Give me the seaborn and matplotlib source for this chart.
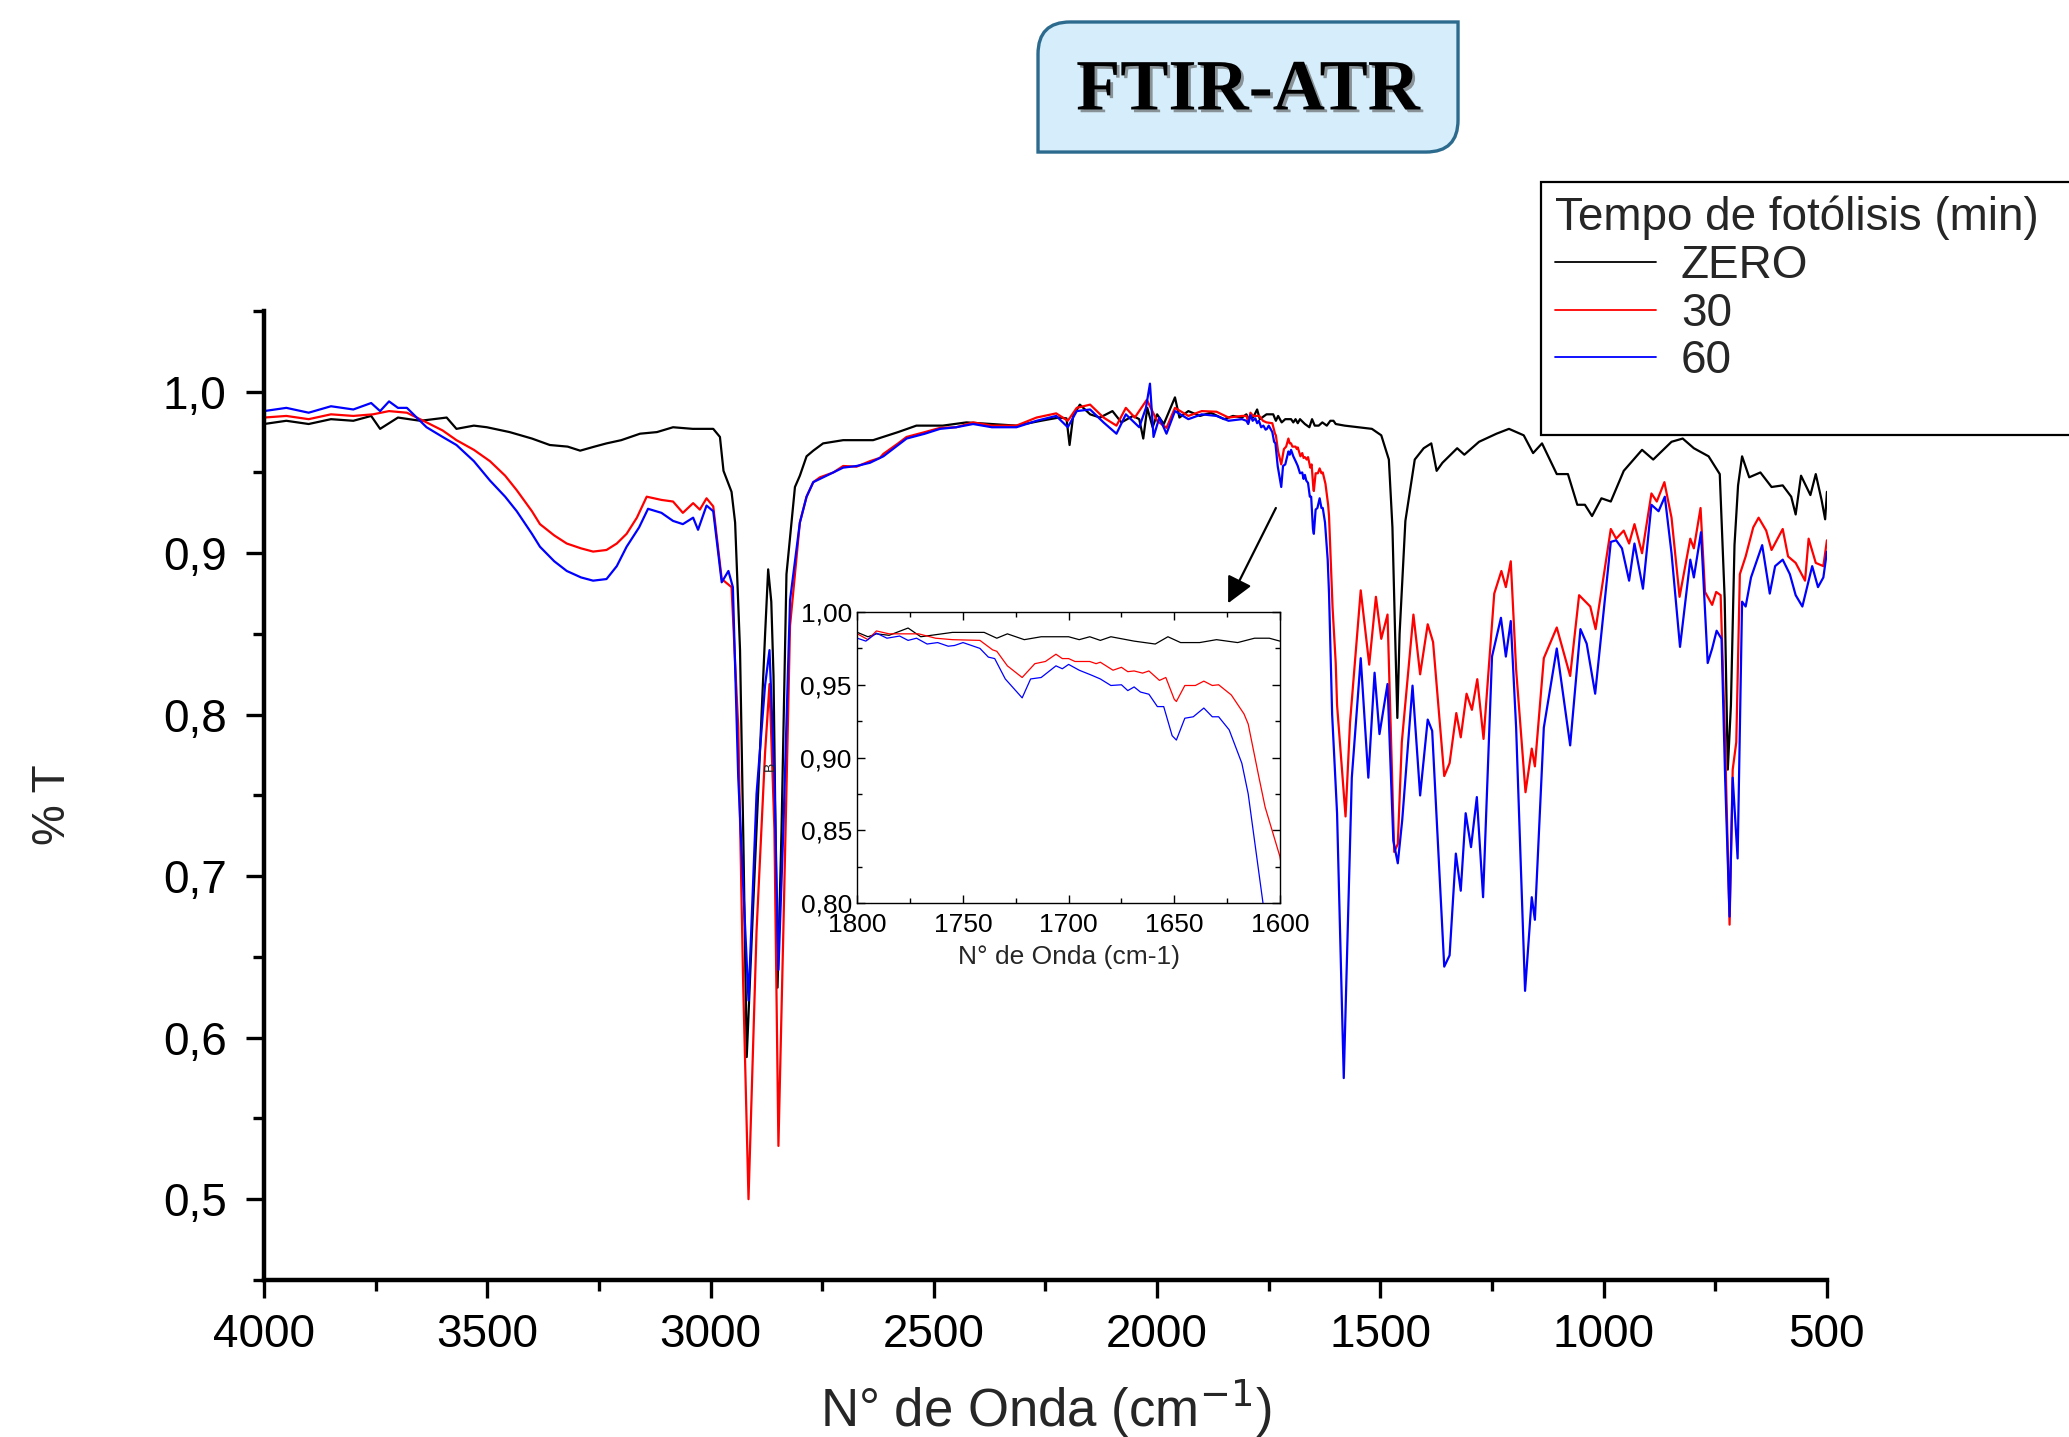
import pandas as pd
import seaborn as sns
import matplotlib.pyplot as plt
import matplotlib.patheffects as pe
from matplotlib.ticker import MultipleLocator, FuncFormatter
from matplotlib.lines import Line2D
from matplotlib.path import Path
from matplotlib.patches import PathPatch

# Espectro ZERO (sin fotólisis)
onda_zero = [4000, 3950, 3900, 3850, 3800, 3760, 3740, 3700, 3650, 3591,
             3569, 3530, 3501, 3450, 3400, 3360, 3320, 3292, 3260, 3233,
             3200, 3158, 3120, 3084, 3040, 2994, 2979, 2971, 2953, 2945,
             2934, 2926, 2919, 2908, 2897, 2878, 2871, 2864, 2859, 2850,
             2841, 2830, 2811, 2800, 2785, 2770, 2748, 2703, 2636, 2580,
             2539, 2480, 2427, 2370, 2315, 2260, 2220, 2203, 2196, 2188,
             2173, 2150, 2128, 2100, 2080, 2054, 2040, 2031, 2022, 2010,
             2000, 1985, 1970, 1960, 1950, 1930, 1904, 1880, 1850, 1830,
             1810, 1800, 1795, 1791, 1785, 1776, 1770, 1755, 1740, 1734,
             1729, 1721, 1713, 1700, 1695, 1690, 1685, 1680, 1669, 1659,
             1653, 1647, 1638, 1630, 1620, 1612, 1605, 1600, 1580, 1550,
             1519, 1498, 1481, 1473, 1467, 1462, 1457, 1444, 1423, 1403,
             1386, 1374, 1361, 1328, 1312, 1279, 1240, 1212, 1179, 1158,
             1138, 1105, 1080, 1059, 1042, 1026, 1005, 984, 955, 914,
             889, 848, 823, 798, 765, 740, 729, 722, 715, 707,
             699, 690, 674, 649, 624, 599, 580, 570, 558, 537,
             525, 512, 504, 500]
t_zero = [0.980, 0.982, 0.980, 0.983, 0.982, 0.985, 0.977, 0.984, 0.982, 0.984,
          0.977, 0.979, 0.978, 0.975, 0.971, 0.967, 0.966, 0.9635, 0.966, 0.968,
          0.970, 0.974, 0.975, 0.978, 0.977, 0.977, 0.972, 0.951, 0.938, 0.919,
          0.840, 0.713, 0.588, 0.660, 0.729, 0.849, 0.890, 0.870, 0.824, 0.631,
          0.729, 0.887, 0.941, 0.948, 0.960, 0.9635, 0.968, 0.970, 0.970, 0.975,
          0.979, 0.979, 0.981, 0.980, 0.979, 0.982, 0.984, 0.9835, 0.967, 0.985,
          0.992, 0.986, 0.984, 0.988, 0.981, 0.985, 0.983, 0.971, 0.990, 0.978,
          0.986, 0.980, 0.990, 0.9965, 0.984, 0.988, 0.985, 0.987, 0.983, 0.985,
          0.984, 0.986, 0.983, 0.985, 0.984, 0.989, 0.983, 0.986, 0.986, 0.982,
          0.985, 0.981, 0.983, 0.983, 0.981, 0.983, 0.9805, 0.983, 0.980, 0.978,
          0.983, 0.979, 0.979, 0.981, 0.979, 0.982, 0.982, 0.980, 0.979, 0.978,
          0.977, 0.973, 0.958, 0.916, 0.850, 0.798, 0.850, 0.920, 0.958, 0.965,
          0.968, 0.951, 0.956, 0.965, 0.961, 0.969, 0.974, 0.977, 0.973, 0.962,
          0.968, 0.949, 0.949, 0.930, 0.930, 0.923, 0.934, 0.932, 0.951, 0.964,
          0.958, 0.969, 0.971, 0.965, 0.960, 0.949, 0.872, 0.766, 0.806, 0.905,
          0.942, 0.960, 0.947, 0.950, 0.941, 0.942, 0.935, 0.924, 0.948, 0.936,
          0.949, 0.933, 0.921, 0.938]

# Espectro 30 min
onda_30 = [4000, 3950, 3900, 3850, 3800, 3756, 3720, 3680, 3636, 3600,
           3569, 3530, 3494, 3460, 3434, 3400, 3382, 3350, 3322, 3290,
           3263, 3233, 3210, 3188, 3165, 3143, 3110, 3084, 3062, 3039,
           3024, 3009, 2994, 2975, 2953, 2938, 2927, 2915, 2897, 2878,
           2868, 2857, 2848, 2837, 2822, 2800, 2785, 2770, 2755, 2725,
           2703, 2673, 2643, 2621, 2613, 2580, 2561, 2520, 2486, 2450,
           2412, 2370, 2315, 2270, 2226, 2200, 2180, 2150, 2120, 2091,
           2070, 2050, 2023, 2000, 1979, 1960, 1930, 1900, 1867, 1840,
           1810, 1800, 1795, 1791, 1785, 1771, 1763, 1755, 1742, 1736,
           1734, 1729, 1722, 1716, 1711, 1706, 1703, 1700, 1697, 1690,
           1687, 1685, 1679, 1675, 1672, 1669, 1665, 1662, 1657, 1654,
           1650, 1649, 1645, 1640, 1636, 1632, 1629, 1623, 1617, 1615,
           1610, 1607, 1600, 1597, 1578, 1568, 1544, 1525, 1510, 1498,
           1484, 1469, 1461, 1452, 1426, 1411, 1394, 1382, 1357, 1345,
           1330, 1320, 1307, 1295, 1283, 1269, 1245, 1229, 1219, 1208,
           1196, 1175, 1161, 1154, 1134, 1105, 1075, 1055, 1030, 1018,
           984, 972, 955, 943, 931, 914, 893, 881, 864, 848,
           830, 806, 798, 783, 773, 757, 748, 738, 728, 718,
           711, 703, 695, 682, 665, 653, 636, 624, 599, 587,
           570, 549, 541, 525, 508, 500]
t_30 = [0.984, 0.985, 0.983, 0.986, 0.985, 0.986, 0.988, 0.987, 0.981, 0.976,
        0.970, 0.964, 0.957, 0.948, 0.939, 0.926, 0.918, 0.911, 0.906, 0.903,
        0.901, 0.902, 0.906, 0.912, 0.922, 0.935, 0.933, 0.932, 0.925, 0.931,
        0.927, 0.934, 0.929, 0.884, 0.879, 0.792, 0.634, 0.500, 0.666, 0.776,
        0.819, 0.729, 0.533, 0.666, 0.855, 0.919, 0.935, 0.944, 0.947, 0.950,
        0.954, 0.9536, 0.957, 0.959, 0.9615, 0.968, 0.972, 0.975, 0.9776, 0.978,
        0.981, 0.979, 0.979, 0.984, 0.9866, 0.982, 0.990, 0.992, 0.984, 0.979,
        0.990, 0.984, 0.995, 0.982, 0.9776, 0.990, 0.985, 0.988, 0.9876, 0.984,
        0.985, 0.985, 0.981, 0.987, 0.985, 0.985, 0.982, 0.981, 0.9805, 0.974,
        0.973, 0.963, 0.955, 0.9645, 0.966, 0.971, 0.968, 0.968, 0.966, 0.966,
        0.9645, 0.9655, 0.960, 0.962, 0.959, 0.9595, 0.958, 0.9595, 0.953, 0.955,
        0.940, 0.9385, 0.9495, 0.9495, 0.9525, 0.9495, 0.950, 0.943, 0.930, 0.923,
        0.887, 0.866, 0.832, 0.806, 0.737, 0.795, 0.877, 0.831, 0.873, 0.847,
        0.862, 0.715, 0.720, 0.783, 0.862, 0.825, 0.856, 0.845, 0.762, 0.770,
        0.801, 0.786, 0.813, 0.803, 0.822, 0.785, 0.875, 0.889, 0.879, 0.895,
        0.828, 0.752, 0.779, 0.768, 0.835, 0.854, 0.824, 0.874, 0.867, 0.853,
        0.915, 0.909, 0.914, 0.906, 0.918, 0.900, 0.937, 0.932, 0.944, 0.922,
        0.873, 0.909, 0.903, 0.928, 0.876, 0.868, 0.876, 0.874, 0.783, 0.670,
        0.766, 0.783, 0.887, 0.898, 0.916, 0.922, 0.914, 0.902, 0.915, 0.898,
        0.894, 0.883, 0.909, 0.894, 0.892, 0.908]

# Espectro 60 min
onda_60 = [4000, 3950, 3900, 3850, 3800, 3760, 3740, 3720, 3700, 3680,
           3636, 3600, 3569, 3530, 3494, 3460, 3434, 3400, 3382, 3350,
           3322, 3290, 3263, 3233, 3210, 3188, 3160, 3140, 3110, 3084,
           3062, 3039, 3028, 3009, 2994, 2975, 2960, 2950, 2938, 2915,
           2897, 2878, 2868, 2857, 2848, 2837, 2822, 2800, 2785, 2770,
           2755, 2725, 2703, 2673, 2643, 2613, 2580, 2561, 2520, 2486,
           2450, 2412, 2370, 2315, 2270, 2226, 2200, 2180, 2150, 2120,
           2091, 2070, 2040, 2025, 2016, 2008, 1995, 1979, 1960, 1930,
           1900, 1867, 1840, 1810, 1800, 1796, 1791, 1786, 1780, 1776,
           1772, 1767, 1762, 1757, 1754, 1750, 1742, 1738, 1735, 1730,
           1722, 1718, 1713, 1706, 1703, 1700, 1695, 1689, 1685, 1680,
           1675, 1672, 1669, 1666, 1662, 1658, 1655, 1651, 1649, 1645,
           1641, 1636, 1632, 1629, 1624, 1618, 1615, 1608, 1597, 1582,
           1564, 1544, 1527, 1513, 1502, 1484, 1471, 1461, 1451, 1428,
           1411, 1394, 1384, 1357, 1345, 1331, 1320, 1309, 1297, 1284,
           1270, 1250, 1230, 1219, 1208, 1196, 1176, 1161, 1154, 1134,
           1105, 1075, 1052, 1038, 1019, 984, 972, 959, 943, 931,
           912, 893, 877, 863, 848, 829, 806, 798, 782, 767,
           757, 747, 736, 728, 718, 711, 700, 690, 682, 670,
           645, 628, 616, 599, 583, 570, 555, 533, 520, 508,
           500]
t_60 = [0.988, 0.990, 0.987, 0.991, 0.989, 0.993, 0.988, 0.994, 0.990, 0.990,
        0.978, 0.972, 0.967, 0.957, 0.945, 0.935, 0.926, 0.912, 0.904, 0.895,
        0.889, 0.885, 0.883, 0.884, 0.892, 0.904, 0.916, 0.9275, 0.925, 0.920,
        0.918, 0.922, 0.9145, 0.9295, 0.926, 0.882, 0.889, 0.879, 0.761, 0.623,
        0.751, 0.818, 0.840, 0.761, 0.642, 0.729, 0.871, 0.919, 0.935, 0.944,
        0.946, 0.950, 0.953, 0.954, 0.956, 0.960, 0.967, 0.971, 0.974, 0.977,
        0.978, 0.980, 0.978, 0.978, 0.982, 0.985, 0.978, 0.988, 0.989, 0.981,
        0.974, 0.986, 0.978, 0.990, 1.005, 0.972, 0.984, 0.974, 0.988, 0.983,
        0.986, 0.985, 0.982, 0.983, 0.982, 0.980, 0.9855, 0.982, 0.9835, 0.9805,
        0.982, 0.978, 0.979, 0.9765, 0.977, 0.979, 0.975, 0.969, 0.968, 0.954,
        0.941, 0.954, 0.955, 0.963, 0.961, 0.964, 0.960, 0.9565, 0.954, 0.9495,
        0.950, 0.946, 0.9485, 0.945, 0.9435, 0.935, 0.935, 0.915, 0.912, 0.927,
        0.928, 0.934, 0.928, 0.928, 0.919, 0.896, 0.875, 0.800, 0.739, 0.575,
        0.761, 0.835, 0.761, 0.826, 0.788, 0.819, 0.722, 0.708, 0.735, 0.818,
        0.750, 0.797, 0.790, 0.644, 0.651, 0.714, 0.691, 0.739, 0.718, 0.749,
        0.687, 0.836, 0.860, 0.836, 0.858, 0.792, 0.629, 0.687, 0.673, 0.792,
        0.841, 0.781, 0.853, 0.844, 0.813, 0.907, 0.908, 0.903, 0.883, 0.906,
        0.878, 0.930, 0.926, 0.935, 0.900, 0.842, 0.896, 0.885, 0.913, 0.832,
        0.841, 0.852, 0.847, 0.761, 0.675, 0.761, 0.711, 0.870, 0.867, 0.885,
        0.905, 0.875, 0.892, 0.896, 0.887, 0.874, 0.867, 0.892, 0.879, 0.885,
        0.901]

series = ['ZERO', '30', '60']
colores = {'ZERO': 'black', '30': 'red', '60': 'blue'}

df = pd.concat([
    pd.DataFrame({'onda': onda_zero, 'T': t_zero, 'serie': 'ZERO'}),
    pd.DataFrame({'onda': onda_30, 'T': t_30, 'serie': '30'}),
    pd.DataFrame({'onda': onda_60, 'T': t_60, 'serie': '60'}),
], ignore_index=True)

sns.set_theme(style='ticks')
plt.rcParams['font.family'] = ['Liberation Sans', 'DejaVu Sans']

fig = plt.figure(figsize=(20.69, 14.37), dpi=100)

# Grafico principal
ax = fig.add_axes([0.1276, 0.1093, 0.7554, 0.6743])
sns.lineplot(data=df, x='onda', y='T', hue='serie', hue_order=series,
             palette=colores, estimator=None, sort=False, lw=1.6,
             legend=False, ax=ax)
ax.set_xlim(4000, 500)
ax.set_ylim(0.45, 1.05)
ax.xaxis.set_major_locator(MultipleLocator(500))
ax.xaxis.set_minor_locator(MultipleLocator(250))
ax.yaxis.set_major_locator(MultipleLocator(0.1))
ax.yaxis.set_minor_locator(MultipleLocator(0.05))
ax.yaxis.set_major_formatter(FuncFormatter(lambda v, p: f'{v:.1f}'.replace('.', ',')))
ax.tick_params(which='major', direction='out', length=13, width=2.4,
               labelsize=33, color='black', labelcolor='black')
ax.tick_params(axis='x', which='major', pad=11)
ax.tick_params(axis='y', which='major', pad=14)
ax.tick_params(which='minor', direction='out', length=8, width=2.4, color='black')
sns.despine(ax=ax)
for s in ['left', 'bottom']:
    ax.spines[s].set_linewidth(3.2)
    ax.spines[s].set_color('black')
ax.set_xlabel('N° de Onda (cm$^{-1}$)', fontsize=38)
ax.set_ylabel('% T', fontsize=33)
ax.xaxis.label.set_va('center')
ax.yaxis.label.set_va('center')
ax.xaxis.set_label_coords(0.5, -0.133)
ax.yaxis.set_label_coords(-0.135, 0.49)

# Flecha hacia el detalle
ax.annotate('', xy=(1841, 0.869), xytext=(1734, 0.928),
            arrowprops=dict(arrowstyle='-|>', color='black', lw=1.6,
                            mutation_scale=40, shrinkA=0, shrinkB=0))

# Detalle 1800-1600
ax_in = fig.add_axes([0.4144, 0.3716, 0.2042, 0.2025])
ax_in.set_facecolor('white')
sns.lineplot(data=df, x='onda', y='T', hue='serie', hue_order=series,
             palette=colores, estimator=None, sort=False, lw=0.9,
             legend=False, ax=ax_in)
ax_in.set_xlim(1800, 1600)
ax_in.set_ylim(0.80, 1.00)
ax_in.xaxis.set_major_locator(MultipleLocator(50))
ax_in.xaxis.set_minor_locator(MultipleLocator(25))
ax_in.yaxis.set_major_locator(MultipleLocator(0.05))
ax_in.yaxis.set_minor_locator(MultipleLocator(0.025))
ax_in.yaxis.set_major_formatter(FuncFormatter(lambda v, p: f'{v:.2f}'.replace('.', ',')))
ax_in.tick_params(which='both', direction='in', top=True, right=True,
                  width=1.0, color='black', labelcolor='black')
ax_in.tick_params(which='major', length=6, labelsize=19)
ax_in.tick_params(axis='x', which='major', pad=7)
ax_in.tick_params(axis='y', which='major', pad=4)
ax_in.tick_params(which='minor', length=3.5)
for s in ax_in.spines.values():
    s.set_linewidth(1.0)
    s.set_color('black')
ax_in.set_xlabel('N° de Onda (cm-1)', fontsize=19, labelpad=6)
ax_in.set_ylabel('B', fontsize=10)
ax_in.yaxis.set_label_coords(-0.19, 0.47)

# Leyenda (con una fila vacia al final, como en el original)
handles = [Line2D([], [], color=colores[s], lw=1.3) for s in series]
handles.append(Line2D([], [], color='none'))
leg = fig.legend(handles, series + [' '], title='Tempo de fotólisis (min)',
                 loc='upper left', bbox_to_anchor=(0.7448, 0.70, 0.27, 0.1733),
                 mode='expand',
                 fontsize=33, title_fontsize=33, frameon=True, fancybox=False,
                 edgecolor='black', framealpha=1, borderaxespad=0,
                 handlelength=2.2, handletextpad=0.55, labelspacing=0.08,
                 borderpad=0.3, alignment='left')
leg.get_texts()[3].set_fontsize(7)
leg.get_frame().set_linewidth(1.6)

# Titulo en recuadro
x0, x1, y0, y1 = 0.5017, 0.7047, 0.8942, 0.9847
rx, ry = 32 / 2069, 32 / 1437
verts = [(x0 + rx, y1), (x1, y1), (x1, y0 + ry), (x1, y0), (x1 - rx, y0),
         (x0, y0), (x0, y1 - ry), (x0, y1), (x0 + rx, y1), (x0 + rx, y1)]
codes = [Path.MOVETO, Path.LINETO, Path.LINETO, Path.CURVE3, Path.CURVE3,
         Path.LINETO, Path.LINETO, Path.CURVE3, Path.CURVE3, Path.CLOSEPOLY]
caja = PathPatch(Path(verts, codes), transform=fig.transFigure,
                 facecolor='#d6eefb', edgecolor='#2c6a8e', lw=2.4)
fig.patches.append(caja)
fig.text((x0 + x1) / 2, 0.936, 'FTIR-ATR', ha='center', va='center',
         fontsize=52, fontweight='bold', family='Liberation Serif',
         color='black',
         path_effects=[pe.withSimplePatchShadow(offset=(2, -2),
                                                shadow_rgbFace='#555555',
                                                alpha=0.6)])

fig.savefig('out.png', dpi=100)
